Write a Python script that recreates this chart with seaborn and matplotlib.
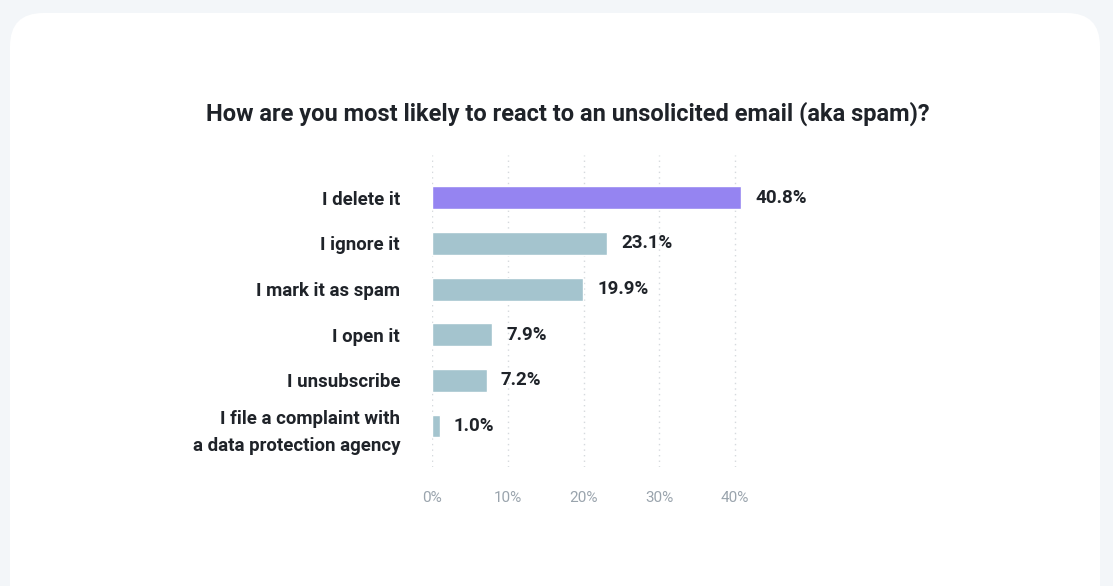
import matplotlib
matplotlib.use('Agg')
import matplotlib.pyplot as plt
from matplotlib.patches import FancyBboxPatch
import seaborn as sns
import pandas as pd

# Данные
answers = ['I delete it', 'I ignore it', 'I mark it as spam', 'I open it',
           'I unsubscribe', 'I file a complaint with\na data protection agency']
shares = [40.8, 23.1, 19.9, 7.9, 7.2, 1.0]
x_ticks = [0, 10, 20, 30, 40]
tick_labels = ['0%', '10%', '20%', '30%', '40%']
bar_colors = ['#9584f1', '#a4c4ce', '#a4c4ce', '#a4c4ce', '#a4c4ce', '#a4c4ce']

df = pd.DataFrame({'answer': answers, 'share': shares})

sns.set_style('white')
plt.rcParams['font.family'] = ['Roboto', 'DejaVu Sans']

W, H = 1113, 586
fig = plt.figure(figsize=(W / 100, H / 100), dpi=100)
fig.patch.set_facecolor('#f3f6f9')

# Белая карточка
card = FancyBboxPatch((10 / W, -40 / H), 1090 / W, 613 / H,
                      boxstyle='round,pad=0,rounding_size=0.03',
                      transform=fig.transFigure, facecolor='white',
                      edgecolor='none', mutation_aspect=W / H, zorder=-1)
fig.patches.append(card)

ax_left, ax_right = 432, 773
ax_top, ax_bottom = 155, 467
ax = fig.add_axes([ax_left / W, 1 - ax_bottom / H, (ax_right - ax_left) / W, (ax_bottom - ax_top) / H])
ax.set_facecolor('none')
ax.set_zorder(1)

sns.barplot(data=df, x='share', y='answer', hue='answer', palette=bar_colors,
            legend=False, width=0.5, ax=ax, zorder=3, saturation=1)

ax.set_xlim(0, 45)
ax.set_ylim(5.9, -0.94)
ax.set_xticks(x_ticks)
ax.set_xticklabels(tick_labels, color='#9aa4ad', fontsize=11)
ax.tick_params(axis='x', length=0, pad=17)
ax.tick_params(axis='y', length=0, pad=23)
for lbl in ax.get_yticklabels():
    lbl.set_fontsize(13.4)
    lbl.set_fontweight('bold')
    lbl.set_color('#1f2329')
    lbl.set_linespacing(1.65)
ax.set_xlabel('')
ax.set_ylabel('')
ax.grid(axis='x', color='#d5d9dd', linestyle=(0, (1, 3)), linewidth=1, zorder=0)
for s in ax.spines.values():
    s.set_visible(False)

# Подписи значений
for i, v in enumerate(shares):
    ax.text(v + 1.9, i, f'{v:.1f}%', va='center', ha='left', fontsize=13.5,
            fontweight='bold', color='#1f2329')

fig.text(568 / W, 1 - 114 / H, 'How are you most likely to react to an unsolicited email (aka spam)?',
         ha='center', va='center', fontsize=17, fontweight='bold', color='#1f2329')

fig.savefig('out.png', dpi=100, facecolor=fig.get_facecolor())
